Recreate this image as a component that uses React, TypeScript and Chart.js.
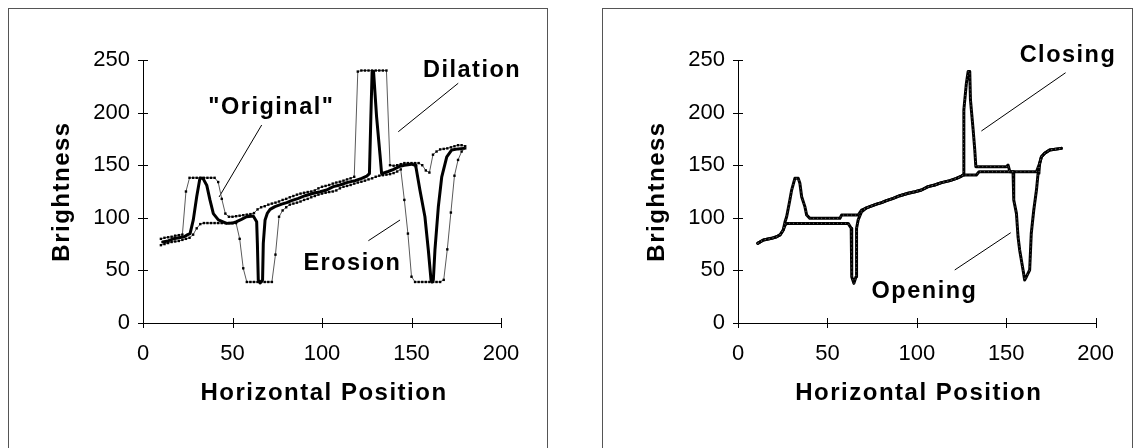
import { useEffect, useRef } from "react";
import { Chart, registerables } from "chart.js";

Chart.register(...registerables);

// ---------- axis ticks ----------
const X_TICKS = [0, 50, 100, 150, 200];
const Y_TICKS = [0, 50, 100, 150, 200, 250];
const X_TITLE = "Horizontal Position";
const Y_TITLE = "Brightness";

// ---------- left chart: "Original" profile ----------
const ORIGINAL_X = [11, 14, 17, 20, 23, 25, 26.3, 28.1, 30, 31.8, 33.5, 35.6, 37.4, 39.3, 42.1, 46.7, 50, 52.3, 55, 57.9, 61.6, 63.5, 63.9, 64.4, 65.4, 66.8, 67.2, 68.2, 69.5, 71, 73.7, 77.5, 80.3, 83, 86.8, 90.5, 95.2, 99, 102.6, 106.3, 110, 113.8, 118.5, 122.2, 125, 126.5, 127.3, 128, 128.8, 130.5, 132.4, 133.3, 137, 140, 143, 146, 150, 152, 152.5, 154.7, 157.5, 159.4, 160.9, 161.5, 162.2, 163.1, 165, 166.9, 169.7, 172.5, 176, 179];
const ORIGINAL_Y = [77, 78, 80, 81, 82, 84, 85, 98, 120, 137.5, 137.5, 131, 117, 104, 98, 94.7, 95, 96.3, 98.5, 101, 101.7, 96.3, 75.7, 41, 38, 41, 75.7, 98, 104.5, 108, 110.6, 113, 114.4, 116.3, 118.5, 121, 123.3, 124.8, 126.4, 129.6, 131.2, 133.4, 135.3, 137.5, 139.7, 142, 196, 239, 239, 196, 160, 142, 144, 146, 148.6, 150, 151, 150, 148, 126.4, 101, 69.4, 40.9, 39, 40.9, 69.4, 110.6, 139, 158, 164.5, 165.5, 166];

// ---------- left chart: dilation / erosion (sampled every 2 positions) ----------
const SAMPLE_X = [10, 12, 14, 16, 18, 20, 22, 24, 26, 28, 30, 32, 34, 36, 38, 40, 42, 44, 46, 48, 50, 52, 54, 56, 58, 60, 62, 64, 66, 68, 70, 72, 74, 76, 78, 80, 82, 84, 86, 88, 90, 92, 94, 96, 98, 100, 102, 104, 106, 108, 110, 112, 114, 116, 118, 120, 122, 124, 126, 128, 130, 132, 134, 136, 138, 140, 142, 144, 146, 148, 150, 152, 154, 156, 158, 160, 162, 164, 166, 168, 170, 172, 174, 176, 178, 180];
const DILATION_Y = [80, 81, 81.5, 82, 83, 83.5, 84, 125, 138, 138, 138, 138, 138, 138, 138, 138,
  134, 118, 104, 101, 101, 101.5, 102, 102.5, 103, 103.5, 104.5, 108, 110, 111, 112.5, 113.5, 114.4, 115.5, 117, 118,
  119.5, 120.7, 122, 123, 123.8, 124.5, 125, 126, 128, 129.5, 130.3, 131.2, 132.5, 133.5, 134.3, 135.3, 136.5, 137.5, 139, 239,
  240, 240, 240, 240, 240, 240, 240, 240, 150, 149.5, 150, 151, 152, 152, 152, 152, 152, 150, 145, 143,
  160, 163, 165, 165.5, 166, 167, 168, 169, 169, 168];
const EROSION_Y = [74, 75, 76, 77, 77.5, 78, 79, 80, 81, 84, 90, 94, 95, 95, 95, 95,
  95, 95, 95, 95, 95, 95, 80, 52, 39, 39, 39, 39, 39, 39, 39, 39, 65, 101, 107, 110,
  112.5, 113.5, 114.4, 115.5, 117, 118, 119.5, 120.7, 122, 123, 123.8, 124.5, 125, 126, 128, 129.5, 130.3, 131.2, 132.5, 133.5,
  134.3, 135.3, 136.5, 137.5, 139, 140, 140.5, 141, 141.5, 142.5, 144, 146, 117, 85, 44, 39, 39, 39, 39, 39,
  39, 39, 39, 41, 70, 105, 140, 155, 163, 166];

// ---------- right chart: closing / opening ----------
const CLOSING_X = [11, 14.2, 18.8, 21.6, 23.5, 25.3, 26.3, 27.2, 29, 30, 31.8, 33.7, 34.6, 35.6, 37.4, 38.4, 40.2, 57, 57.9, 67.2, 69.1, 71.9, 73.7, 77.5, 80.3, 83, 86.8, 90.5, 95.2, 99, 102.6, 106.3, 110, 113.8, 118.5, 122.2, 125, 125.9, 126.3, 127.7, 128.7, 129.6, 130, 131.5, 132.4, 133, 150.1, 151, 152, 166.9, 168.7, 169.7, 171.5, 174.3, 180.8];
const CLOSING_Y = [75.7, 78.9, 80.5, 82, 83.7, 88.4, 96.3, 101, 117, 126.4, 137.5, 137.5, 132.8, 120, 110.6, 102.6, 99.5, 99.5, 102.6, 102.6, 107.4, 109.5, 110.6, 113, 114.4, 116.3, 118.5, 121, 123.3, 124.8, 126.4, 129.6, 131.2, 133.4, 135.3, 137.5, 139.7, 140.7, 202.5, 227.8, 239, 239, 212, 183.5, 164.5, 148.6, 148.6, 150.2, 143.8, 143.8, 151.8, 158.1, 161.3, 164.5, 166];
const OPENING_X = [11, 14.2, 18.8, 21.6, 23.5, 25.3, 26.3, 27.2, 61.6, 63.3, 63.5, 63.7, 64.8, 66, 66.2, 66.4, 67.2, 69.1, 71.9, 73.7, 77.5, 80.3, 83, 86.8, 90.5, 95.2, 99, 102.6, 106.3, 110, 113.8, 118.5, 122.2, 125, 125.9, 133.3, 134.8, 153.8, 154.2, 155.7, 156.6, 157.5, 159.4, 160.3, 161.3, 163.1, 164, 165.4, 166.9, 167.8, 168.3, 168.7, 169.7, 171.5, 174.3, 180.8];
const OPENING_Y = [75.7, 78.9, 80.5, 82, 83.7, 88.4, 93, 94.7, 94.7, 90, 60, 44, 37.7, 44, 60, 90, 98, 105.8, 109.5, 110.6, 113, 114.4, 116.3, 118.5, 121, 123.3, 124.8, 126.4, 129.6, 131.2, 133.4, 135.3, 137.5, 139.7, 140.7, 140.7, 143.8, 143.8, 116.9, 104.2, 82, 69.4, 50.4, 40.9, 44, 50.4, 85.2, 107.4, 126.4, 142.3, 143.8, 151.8, 158.1, 161.3, 164.5, 166];

// ---------- callouts (label text + anchor in data units, leader line ends in data units) ----------
const LEFT_NOTES = ["\"Original\"", "Dilation", "Erosion"];
const LEFT_NOTE_X = [36.5, 156.4, 89.6];
const LEFT_NOTE_Y = [198.7, 234.1, 50.4];
const LEFT_LEADER_X = [[66.3, 42.5], [176.1, 142.6], [143.6, 125.9]];
const LEFT_LEADER_Y = [[188.2, 119.8], [227.9, 181.8], [97.9, 78.2]];
const RIGHT_NOTES = ["Closing", "Opening"];
const RIGHT_NOTE_X = [157.5, 74.7];
const RIGHT_NOTE_Y = [248.4, 23.5];
const RIGHT_LEADER_X = [[183.2, 136.1], [152.5, 121.2]];
const RIGHT_LEADER_Y = [[237.9, 182.5], [85.8, 50.4]];

const FONT = '"Liberation Sans", Arial, Helvetica, sans-serif';

const pts = (xs: number[], ys: number[]) => xs.map((x, i) => ({ x, y: ys[i] }));

function leaderSets(xs: number[][], ys: number[][]) {
  return xs.map((lx, i) => ({
    label: "leader" + i,
    data: pts(lx, ys[i]),
    showLine: true,
    borderColor: "#000",
    borderWidth: 1,
    pointRadius: 0,
  }));
}

function decorPlugin(notes: string[], nx: number[], ny: number[]) {
  return {
    id: "decor",
    afterDraw(chart: any) {
      const { ctx, chartArea: a, scales } = chart;
      const sx = scales.x;
      const sy = scales.y;
      ctx.save();
      // tick marks crossing the axes
      ctx.strokeStyle = "#000";
      ctx.lineWidth = 1;
      ctx.beginPath();
      for (const t of sx.ticks) {
        const px = Math.round(sx.getPixelForValue(t.value)) + 0.5;
        ctx.moveTo(px, a.bottom - 5);
        ctx.lineTo(px, a.bottom + 5);
      }
      for (const t of sy.ticks) {
        const py = Math.round(sy.getPixelForValue(t.value)) + 0.5;
        ctx.moveTo(a.left - 5, py);
        ctx.lineTo(a.left + 5, py);
      }
      ctx.stroke();
      // axis titles
      ctx.fillStyle = "#000";
      ctx.font = `bold 24px ${FONT}`;
      (ctx as any).letterSpacing = "1.5px";
      ctx.textAlign = "center";
      ctx.textBaseline = "middle";
      ctx.fillText(X_TITLE, (a.left + a.right) / 2 + 2, a.bottom + 70);
      ctx.save();
      ctx.translate(a.left - 81, (a.top + a.bottom) / 2);
      ctx.rotate(-Math.PI / 2);
      ctx.fillText(Y_TITLE, 0, 0);
      ctx.restore();
      // callout labels
      ctx.font = `bold 23.5px ${FONT}`;
      ctx.textAlign = "left";
      ctx.textBaseline = "alphabetic";
      notes.forEach((n, i) => {
        ctx.fillText(n, sx.getPixelForValue(nx[i]), sy.getPixelForValue(ny[i]));
      });
      ctx.restore();
    },
  };
}

function makeOptions(W: number, H: number, chartLeft: number, chartRight: number) {
  return {
    responsive: false,
    animation: false as const,
    devicePixelRatio: 1,
    layout: { padding: { left: 0, top: 51, right: W - chartRight, bottom: 0 } },
    plugins: { legend: { display: false }, tooltip: { enabled: false } },
    elements: { line: { tension: 0 } },
    scales: {
      x: {
        type: "linear" as const,
        min: 0,
        max: 200,
        afterBuildTicks: (s: any) => {
          s.ticks = X_TICKS.map((v) => ({ value: v }));
        },
        afterFit: (s: any) => {
          s.height = H - 314;
        },
        grid: { display: false, drawTicks: false },
        border: { display: true, color: "#000", width: 1 },
        ticks: { color: "#000", font: { family: FONT, size: 22 }, padding: 18, maxRotation: 0, autoSkip: false },
      },
      y: {
        type: "linear" as const,
        min: 0,
        max: 250,
        afterBuildTicks: (s: any) => {
          s.ticks = Y_TICKS.map((v) => ({ value: v }));
        },
        afterFit: (s: any) => {
          s.width = chartLeft;
        },
        grid: { display: false, drawTicks: false },
        border: { display: true, color: "#000", width: 1 },
        ticks: { color: "#000", font: { family: FONT, size: 22 }, padding: 13, autoSkip: false },
      },
    },
  };
}

export default function App() {
  const leftRef = useRef<HTMLCanvasElement>(null);
  const rightRef = useRef<HTMLCanvasElement>(null);

  useEffect(() => {
    const left = new Chart(leftRef.current as HTMLCanvasElement, {
      type: "scatter",
      data: {
        datasets: [
          {
            label: "Original",
            data: pts(ORIGINAL_X, ORIGINAL_Y),
            showLine: true,
            borderColor: "#000",
            borderWidth: 3,
            borderJoinStyle: "round",
            borderCapStyle: "round",
            pointRadius: 0,
          },
          {
            label: "Dilation",
            data: pts(SAMPLE_X, DILATION_Y),
            showLine: true,
            borderColor: "#5a5a5a",
            borderWidth: 1,
            pointStyle: "rect",
            pointRadius: 1.7,
            pointBorderWidth: 0,
            pointBackgroundColor: "#000",
          },
          {
            label: "Erosion",
            data: pts(SAMPLE_X, EROSION_Y),
            showLine: true,
            borderColor: "#5a5a5a",
            borderWidth: 1,
            pointStyle: "rect",
            pointRadius: 1.7,
            pointBorderWidth: 0,
            pointBackgroundColor: "#000",
          },
          ...leaderSets(LEFT_LEADER_X, LEFT_LEADER_Y),
        ] as any,
      },
      options: makeOptions(537, 439, 134, 492) as any,
      plugins: [decorPlugin(LEFT_NOTES, LEFT_NOTE_X, LEFT_NOTE_Y)],
    });

    const thick = (label: string, data: any) => ({
      label,
      data,
      showLine: true,
      borderColor: "#000",
      borderWidth: 3,
      borderJoinStyle: "round",
      borderCapStyle: "round",
      pointRadius: 0,
    });
    const inner = (label: string, data: any) => ({
      label,
      data,
      showLine: true,
      borderColor: "rgba(110,110,110,0.85)",
      borderWidth: 1,
      borderDash: [1, 3],
      pointRadius: 0,
    });
    const closing = pts(CLOSING_X, CLOSING_Y);
    const opening = pts(OPENING_X, OPENING_Y);
    const right = new Chart(rightRef.current as HTMLCanvasElement, {
      type: "scatter",
      data: {
        datasets: [
          inner("Closing inner", closing),
          inner("Opening inner", opening),
          thick("Closing", closing),
          thick("Opening", opening),
          ...leaderSets(RIGHT_LEADER_X, RIGHT_LEADER_Y),
        ] as any,
      },
      options: makeOptions(529, 439, 135, 493) as any,
      plugins: [decorPlugin(RIGHT_NOTES, RIGHT_NOTE_X, RIGHT_NOTE_Y)],
    });

    return () => {
      left.destroy();
      right.destroy();
    };
  }, []);

  return (
    <div style={{ position: "absolute", left: 0, top: 0, width: 1135, height: 448, overflow: "hidden", background: "#fff" }}>
      <div style={{ position: "absolute", left: 8, top: 8, width: 538, height: 460, border: "1px solid #555" }} />
      <div style={{ position: "absolute", left: 602, top: 8, width: 529, height: 460, border: "1px solid #555" }} />
      <canvas ref={leftRef} width={537} height={439} style={{ position: "absolute", left: 9, top: 9, display: "block" }} />
      <canvas ref={rightRef} width={529} height={439} style={{ position: "absolute", left: 603, top: 9, display: "block" }} />
    </div>
  );
}
